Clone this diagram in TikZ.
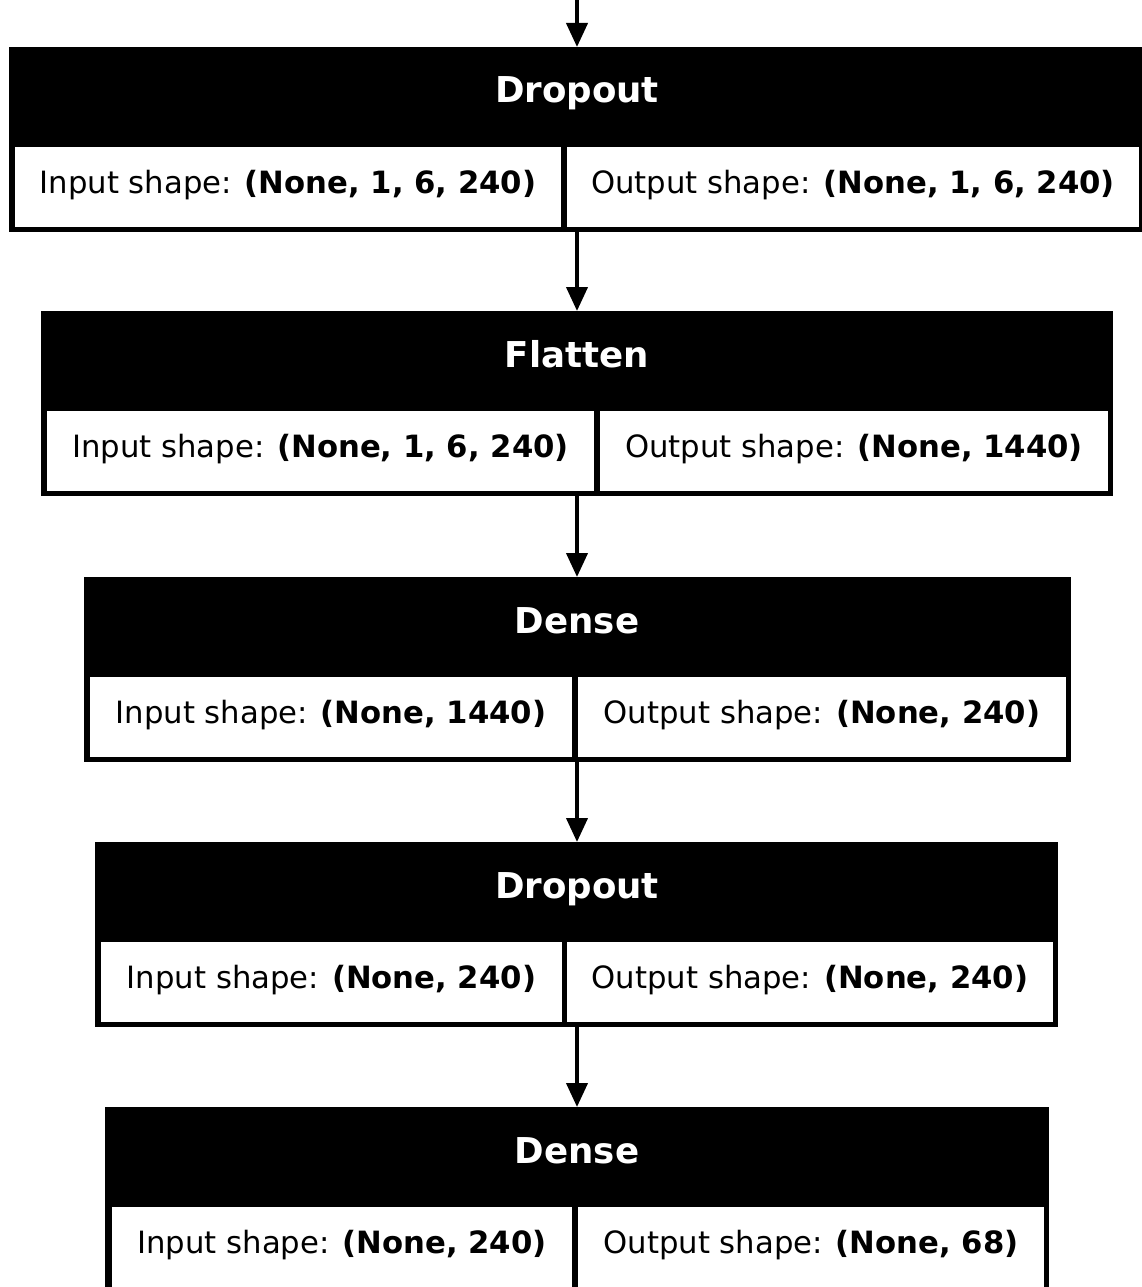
\documentclass[tikz,border=0pt]{standalone}
\usepackage{fontspec}
\setmainfont{DejaVu Sans}
\usetikzlibrary{arrows.meta}
\tikzset{
  layerbox/.style={fill=black, inner sep=0pt, outer sep=0pt, minimum height=185pt},
  cellbox/.style={fill=white, inner sep=0pt, outer sep=0pt, minimum height=80pt,
    text height=22pt, text depth=10pt, font=\fontsize{30.7}{36}\selectfont},
  titletext/.style={text=white, anchor=base, inner sep=0pt, font=\fontsize{35.6}{42}\selectfont\bfseries},
  conn/.style={line width=4pt, -{Triangle[length=24pt,width=21pt]}}
}
\begin{document}
\begin{tikzpicture}[x=1pt,y=-1pt]
\useasboundingbox[fill=white] (0,0) rectangle (1141,1287);
\coordinate (top) at (577,0);

% Box 1: Dropout
\node[layerbox, minimum width=1135pt] (d1) at (576.5,139.5) {};
\node[cellbox, minimum width=546pt] (d1in) at (288,187) {Input shape: \textbf{(None, 1, 6, 240)}};
\node[cellbox, minimum width=572pt] (d1out) at (853,187) {Output shape: \textbf{(None, 1, 6, 240)}};
\node[titletext] (d1t) at (577,103) {Dropout};

% Box 2: Flatten
\node[layerbox, minimum width=1072pt] (f2) at (577,403.5) {};
\node[cellbox, minimum width=547pt] (f2in) at (320.5,451) {Input shape: \textbf{(None, 1, 6, 240)}};
\node[cellbox, minimum width=508pt] (f2out) at (854,451) {Output shape: \textbf{(None, 1440)}};
\node[titletext] (f2t) at (577,367) {Flatten};

% Box 3: Dense
\node[layerbox, minimum width=987pt] (e3) at (577.5,669.5) {};
\node[cellbox, minimum width=482pt] (e3in) at (331,717) {Input shape: \textbf{(None, 1440)}};
\node[cellbox, minimum width=488pt] (e3out) at (822,717) {Output shape: \textbf{(None, 240)}};
\node[titletext] (e3t) at (577,633) {Dense};

% Box 4: Dropout
\node[layerbox, minimum width=963pt] (d4) at (576.5,934.5) {};
\node[cellbox, minimum width=461pt] (d4in) at (331.5,982) {Input shape: \textbf{(None, 240)}};
\node[cellbox, minimum width=486pt] (d4out) at (810,982) {Output shape: \textbf{(None, 240)}};
\node[titletext] (d4t) at (577,898) {Dropout};

% Box 5: Dense
\node[layerbox, minimum width=944pt] (e5) at (577,1199.5) {};
\node[cellbox, minimum width=460pt] (e5in) at (342,1247) {Input shape: \textbf{(None, 240)}};
\node[cellbox, minimum width=466pt] (e5out) at (811,1247) {Output shape: \textbf{(None, 68)}};
\node[titletext] (e5t) at (577,1163) {Dense};

% Connectors
\draw[conn] (top) -- (d1.north -| top);
\draw[conn] (d1.south -| top) -- (f2.north -| top);
\draw[conn] (f2.south -| top) -- (e3.north -| top);
\draw[conn] (e3.south -| top) -- (d4.north -| top);
\draw[conn] (d4.south -| top) -- (e5.north -| top);
\end{tikzpicture}
\end{document}
